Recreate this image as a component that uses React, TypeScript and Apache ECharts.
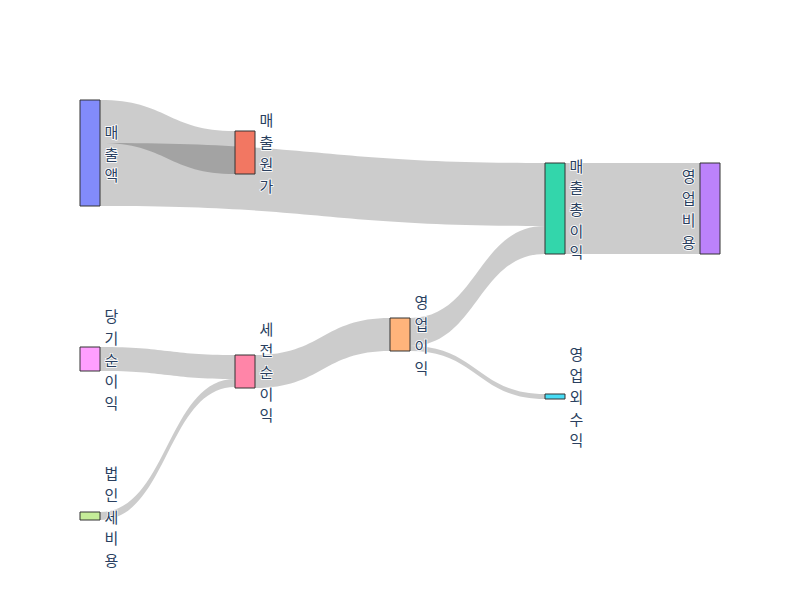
import React, { useEffect, useRef } from "react";
import * as echarts from "echarts";

// Nodes (in drawing order) and their colours
const nodeNames = ["매출액", "매출원가", "매출총이익", "영업비용", "영업이익", "영업외수익", "세전순이익", "당기순이익", "법인세비용"];
const nodeColors = ["#828bfb", "#f27762", "#33d6ab", "#bc82fb", "#ffb47b", "#47dcf5", "#ff85a8", "#ff9fff", "#c5ed99"];

// Links
const linkSources = ["매출액", "매출액", "영업이익", "매출총이익", "세전순이익", "당기순이익", "법인세비용", "영업이익"];
const linkTargets = ["매출원가", "매출총이익", "매출총이익", "영업비용", "영업이익", "세전순이익", "세전순이익", "영업외수익"];
const linkValues = [430, 630, 280, 910, 330, 240, 80, 50];

// Node arrangement (pixel positions of node top-left corners in the 800x600 page)
const nodeLeft = [80, 235, 545, 700, 390, 545, 235, 80, 80];
const nodeTop = [100, 131, 163, 163, 318, 394, 355, 347, 512];
const labelSide = ["right", "right", "right", "left", "right", "right", "right", "right", "right"];

const BOX_LEFT = 80;
const BOX_TOP = 100;
const BOX_W = 640;
const BOX_H = 420;

export default function App() {
  const ref = useRef<HTMLDivElement>(null);
  useEffect(() => {
    document.body.style.margin = "0";
    const chart = echarts.init(ref.current!, null, { renderer: "svg" });
    const data = nodeNames.map((name, i) => ({
      name,
      localX: (nodeLeft[i] - BOX_LEFT) / BOX_W,
      localY: (nodeTop[i] - BOX_TOP) / BOX_H,
      itemStyle: { color: nodeColors[i], borderColor: "#333", borderWidth: 1 },
      label: { position: labelSide[i] },
    }));
    const links = linkSources.map((s, i) => ({ source: s, target: linkTargets[i], value: linkValues[i] }));
    chart.setOption({
      animation: false,
      backgroundColor: "#fff",
      series: [
        {
          type: "sankey",
          left: BOX_LEFT,
          top: BOX_TOP,
          width: BOX_W,
          height: BOX_H,
          nodeWidth: 20,
          nodeGap: 141,
          nodeAlign: "left",
          layoutIterations: 0,
          draggable: false,
          emphasis: { disabled: true },
          data,
          links,
          label: {
            show: true,
            distance: 4,
            color: "#2a3f5f",
            fontSize: 15,
            lineHeight: 21.7,
            fontFamily: "'Noto Sans CJK KR', 'Open Sans', sans-serif",
            textBorderColor: "#fff",
            textBorderWidth: 1.5,
            formatter: (p: any) => String(p.name).split("").join("\n"),
          },
          lineStyle: { color: "#000", opacity: 0.2, curveness: 0.5 },
        },
      ],
    });
    return () => chart.dispose();
  }, []);
  return <div ref={ref} style={{ width: 800, height: 600 }} />;
}
